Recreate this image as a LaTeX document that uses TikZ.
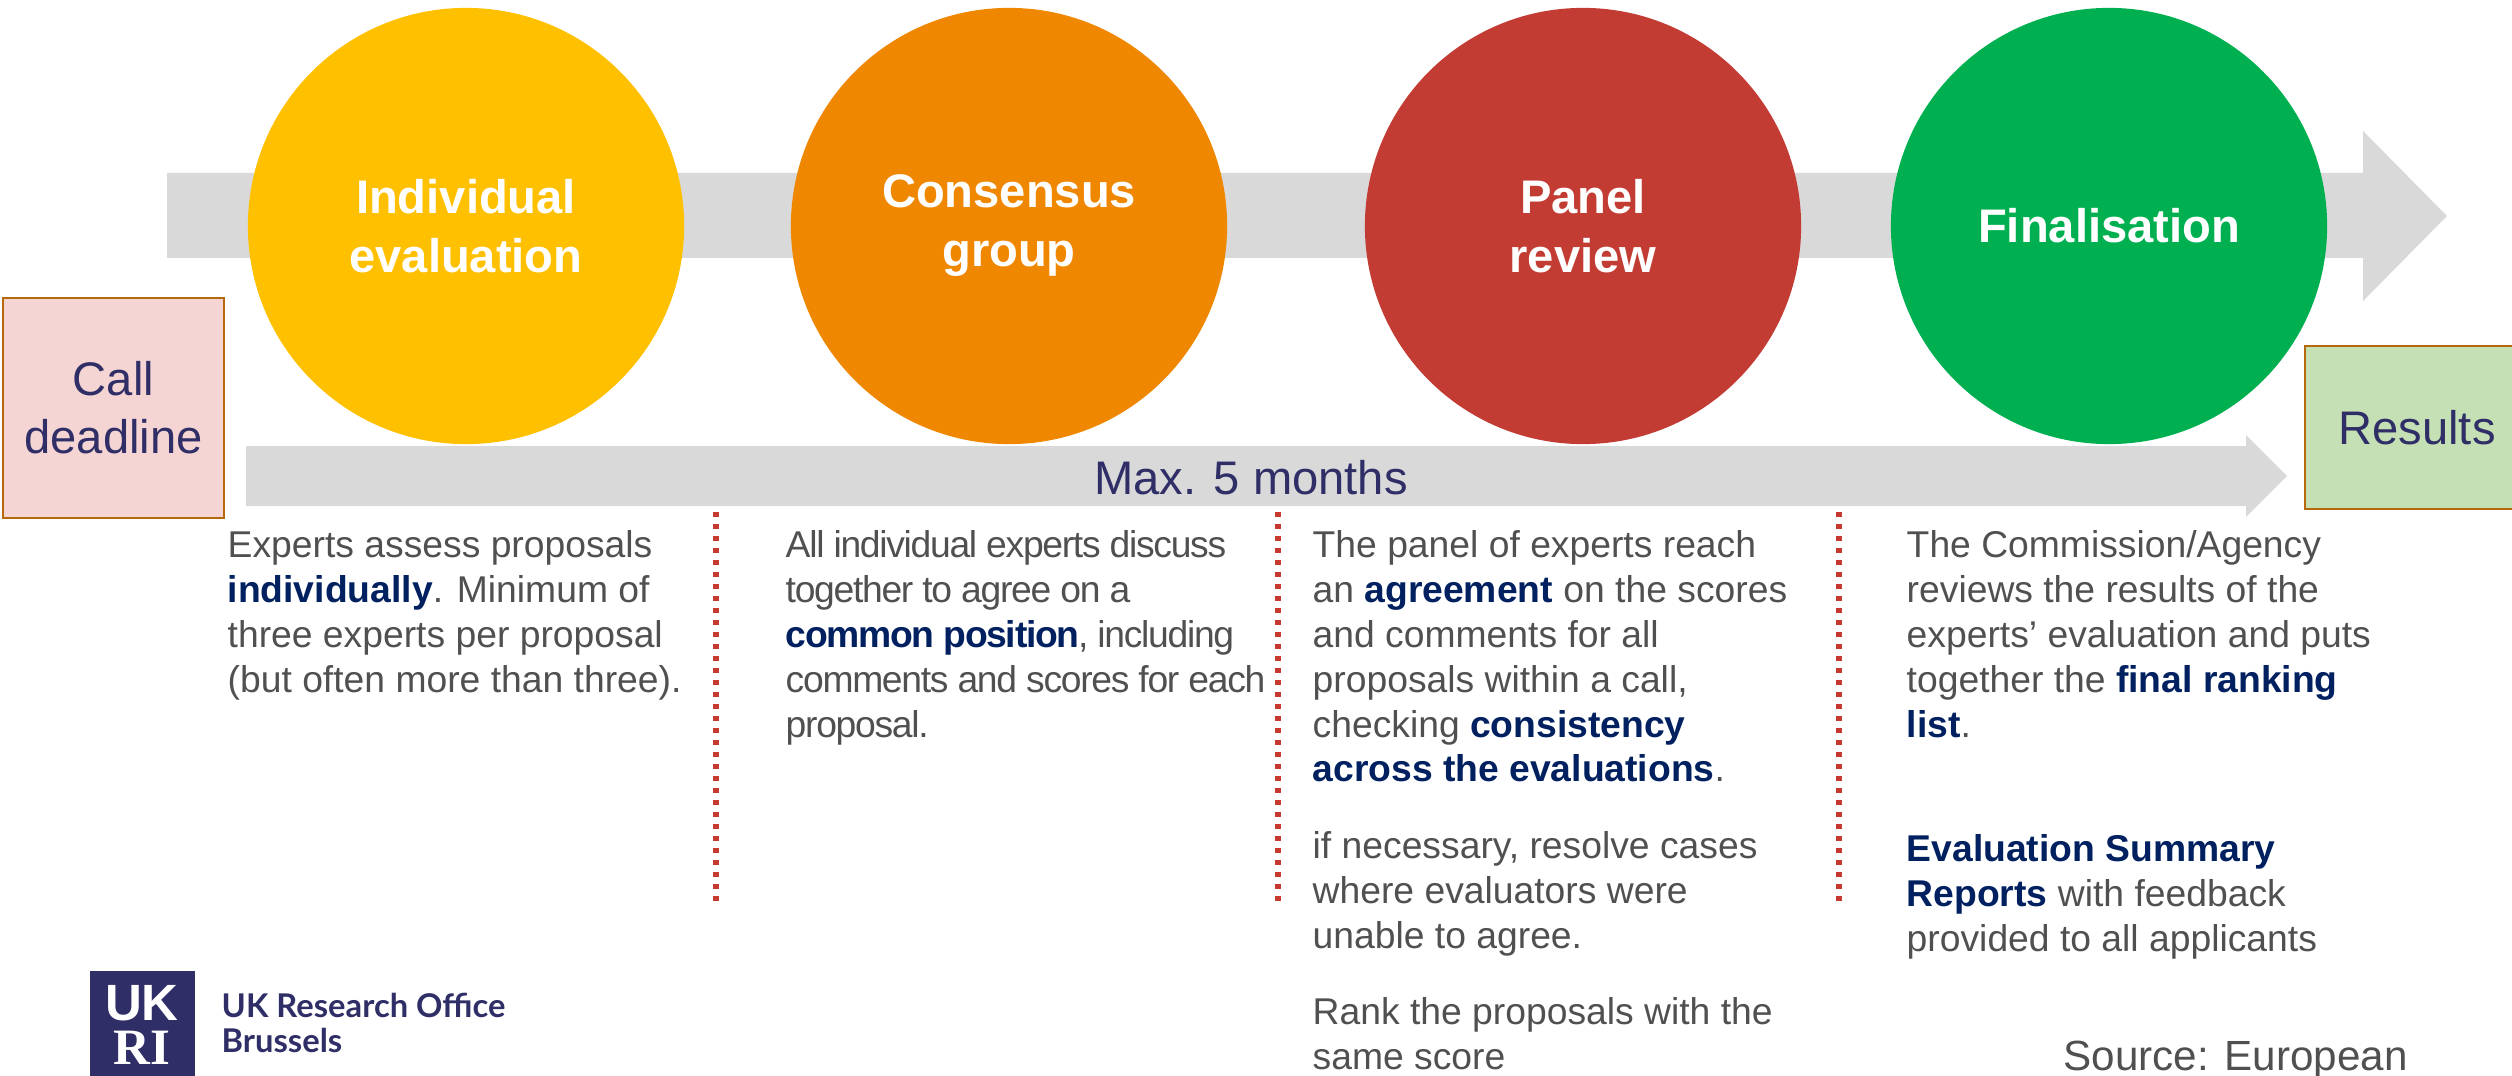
\documentclass[tikz,border=0pt]{standalone}
\usepackage{fontspec}
\usepackage{xcolor}
\setmainfont{Liberation Sans}
\newfontfamily\tightfont[LetterSpace=-3.5]{Liberation Sans}
\newfontfamily\logofont{Lato}
\newfontfamily\slabfont{Liberation Serif}

\definecolor{arrowgrey}{HTML}{D9D9D9}
\definecolor{labelnavy}{HTML}{2F2E66}
\definecolor{boldnavy}{HTML}{002060}
\definecolor{bodygrey}{HTML}{505050}
\definecolor{boxedge}{HTML}{B5680C}
\definecolor{dotred}{HTML}{C5392F}
\definecolor{stageyellow}{HTML}{FFC000}
\definecolor{stageorange}{HTML}{F08700}
\definecolor{stagered}{HTML}{C33C34}
\definecolor{stagegreen}{HTML}{00B050}

\newcommand{\hl}[1]{\textcolor{boldnavy}{\textbf{#1}}}

\tikzset{
  stage/.style={circle,minimum size=4.36cm,align=center,text=white,
    font=\fontsize{13.4}{16.8}\selectfont\bfseries},
  milestone/.style={draw=boxedge,line width=0.7pt,align=center,text=labelnavy,
    font=\fontsize{13.4}{16.5}\selectfont},
  blurb/.style={anchor=north west,align=left,text=bodygrey,
    font=\fontsize{10.6}{12.75}\selectfont},
  divider/.style={dotred,line width=0.06cm,dash pattern=on 0.05cm off 0.07cm}
}

\begin{document}
\begin{tikzpicture}[x=0.01cm,y=-0.01cm]
\tikzstyle{every node}+=[inner sep=0pt]
\useasboundingbox (0,0) rectangle (2512,1076);
% grey arrows
\fill [arrowgrey] (167,173) -- (2363,173) -- (2363,131) -- (2447,216) -- (2363,301) -- (2363,258) -- (167,258) -- cycle;
\fill [arrowgrey] (246,446) -- (2246,446) -- (2246,435) -- (2287,476) -- (2246,517) -- (2246,506) -- (246,506) -- cycle;
\node [text=labelnavy,font=\fontsize{13.4}{16}\selectfont] (maxtime) at (1251,478) {Max. 5 months};
% stages
\node [stage,fill=stageyellow] (individual) at (466,226) {Individual\\evaluation};
\node [stage,fill=stageorange] (consensus) at (1009,226) {Consensus\\group};
\node [stage,fill=stagered] (panel) at (1583,226) {Panel\\review};
\node [stage,fill=stagegreen] (final) at (2109,226) {Finalisation};
% start and end boxes
\node [milestone,fill=red!0,minimum width=2.21cm,minimum height=2.2cm,fill={rgb,255:red,244;green,213;blue,211}] (call) at (113.5,408) {Call\\deadline};
\node [milestone,minimum width=2.24cm,minimum height=1.63cm,fill={rgb,255:red,197;green,224;blue,180}] (results) at (2417,427.5) {Results};
% dotted dividers
\coordinate (divAtop) at (716,512);
\coordinate (divAend) at (716,902);
\coordinate (divBtop) at (1278,512);
\coordinate (divBend) at (1278,902);
\coordinate (divCtop) at (1839,512);
\coordinate (divCend) at (1839,902);
\draw [divider] (divAtop) -- (divAend);
\draw [divider] (divBtop) -- (divBend);
\draw [divider] (divCtop) -- (divCend);
% text columns
\node [blurb] (assess) at (227,530) {Experts assess proposals\\\hl{individually}. Minimum of\\three experts per proposal\\(but often more than three).};
\node [blurb,font=\fontsize{10.6}{12.75}\tightfont] (discuss) at (785,530) {All individual experts discuss\\together to agree on a\\\hl{common position}, including\\comments and scores for each\\proposal.};
\node [blurb] (agree) at (1312,530) {The panel of experts reach\\an \hl{agreement} on the scores\\and comments for all\\proposals within a call,\\checking \hl{consistency}\\\hl{across the evaluations}.};
\node [blurb] (resolve) at (1312,831) {if necessary, resolve cases\\where evaluators were\\unable to agree.};
\node [blurb] (rank) at (1312,997) {Rank the proposals with the\\same score};
\node [blurb] (reviews) at (1906,530) {The Commission/Agency\\reviews the results of the\\experts’ evaluation and puts\\together the \hl{final ranking}\\\hl{list}.};
\node [blurb] (reports) at (1906,834) {\hl{Evaluation Summary}\\\hl{Reports} with feedback\\provided to all applicants};
\node [anchor=base west,text=bodygrey,font=\fontsize{12}{14}\selectfont] (source) at (2063,1070) {Source: European};
% logo
\node [fill=labelnavy,minimum width=1.05cm,minimum height=1.05cm] (logo) at (142.5,1023.5) {};
\node [text=white,font=\fontsize{14.5}{15}\selectfont\bfseries] (logouk) at (142,1003) {UK};
\node [text=white,font=\fontsize{14.5}{15}\slabfont\bfseries] (logori) at (142,1048) {RI};
\node [anchor=base west,text=labelnavy,font=\fontsize{9.3}{11}\logofont\bfseries] (office) at (221,1017) {UK Research Office};
\node [anchor=base west,text=labelnavy,font=\fontsize{9.3}{11}\logofont\bfseries] (brussels) at (221,1052) {Brussels};
\end{tikzpicture}
\end{document}
